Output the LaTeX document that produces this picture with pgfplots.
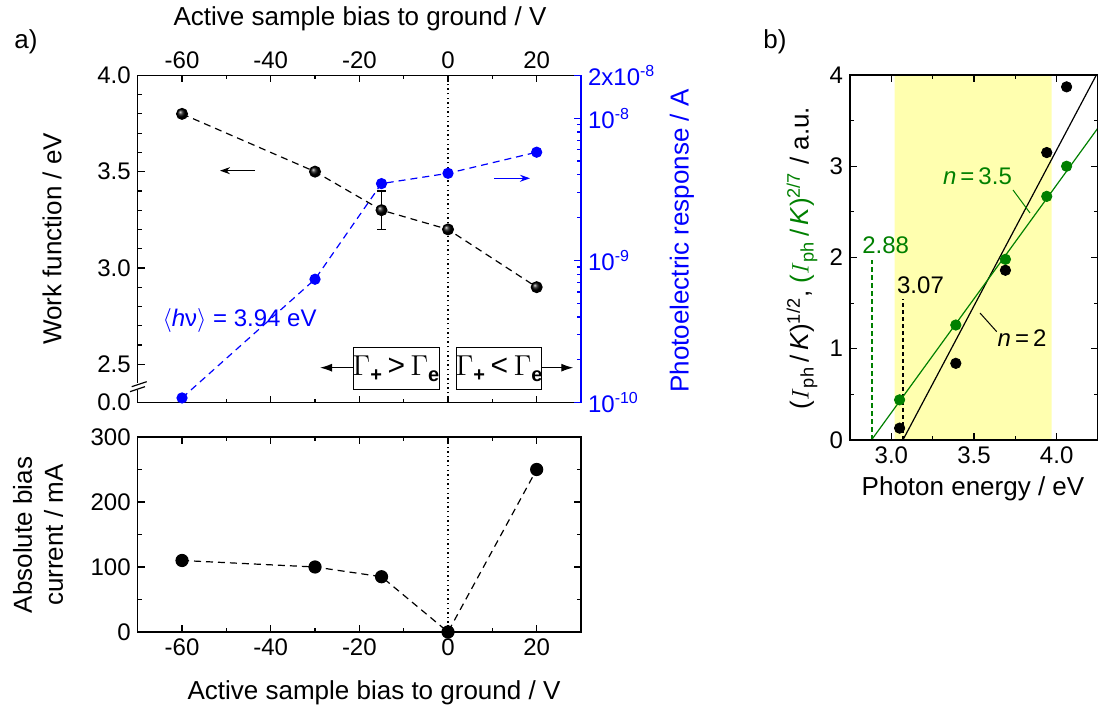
\documentclass[border=0pt]{standalone}
\usepackage{fontspec}
\setmainfont{Liberation Sans}
\usepackage{pgfplots}
\pgfplotsset{compat=1.18}
\usetikzlibrary{arrows.meta}
\definecolor{pblue}{RGB}{0,0,255}
\definecolor{pgreen}{RGB}{0,128,0}
\definecolor{band}{RGB}{255,255,175}
\newcommand{\tk}{\fontsize{12}{14}\selectfont}
\newcommand{\lb}{\fontsize{13}{15.5}\selectfont}
\newcommand{\Gam}{{\fontsize{14.5}{17}\selectfont$\Gamma$}}
\newcommand{\sub}[1]{\raisebox{-0.6ex}{\fontsize{10}{12}\selectfont\textbf{#1}}}
\pgfplotsset{
  base/.style={
    scale only axis, anchor=south west,
    axis line style={line width=0.7pt},
    tick style={line width=0.6pt, black},
    major tick length=3.5pt, minor tick length=2pt,
    tick align=inside,
    tick label style={font=\tk},
    /pgf/number format/assume math mode=true,
  },
  dsh/.style={dash pattern=on 3.5pt off 2.5pt, line width=0.6pt},
  dtt/.style={dash pattern=on 0.7pt off 1.6pt, line width=0.7pt},
}
\begin{document}
\begin{tikzpicture}
\useasboundingbox (0,0) rectangle (549pt,355pt);

% ---- a) top panel, work function (left axis)
\begin{axis}[base, at={(68.85pt,153.65pt)}, width=221.65pt, height=163.65pt,
  xmin=-70, xmax=30, ymin=2.3, ymax=4.0,
  xtick={-60,-40,-20,0,20}, minor xtick={-50,-30,-10,10},
  xtick pos=both, xticklabel pos=upper,
  ytick={2.5,3,3.5,4}, yticklabels={2.5,3.0,3.5,4.0},
  minor ytick={2.6,2.7,2.8,2.9,3.1,3.2,3.3,3.4,3.6,3.7,3.8,3.9},
  ytick pos=left,
  extra y ticks={2.3}, extra y tick labels={0.0},
  extra y tick style={major tick length=0pt},
  clip=false]
\addplot[black, dtt] coordinates {(0,2.3) (0,4.0)};
\addplot[black, dsh, mark=ball, mark size=2.7pt, mark options={solid, ball color=black},
  error bars/.cd, y dir=both, y explicit,
  error bar style={solid, line width=0.6pt},
  error mark options={solid, mark size=2.3pt, line width=0.6pt, rotate=90}]
  coordinates {(-60,3.8) +- (0,0) (-30,3.5) +- (0,0) (-15,3.3) +- (0,0.1) (0,3.2) +- (0,0) (20,2.9) +- (0,0)};
\end{axis}

% ---- a) top panel, photoelectric response (right log axis)
\begin{axis}[base, at={(68.85pt,153.65pt)}, width=221.65pt, height=163.65pt,
  xmin=-70, xmax=30, ymode=log, ymin=1e-10, ymax=2e-8,
  axis x line=none, axis y line*=right,
  y axis line style={pblue, line width=0.7pt},
  tick style={pblue, line width=0.6pt},
  ytick={1e-10,1e-9,1e-8,2e-8},
  yticklabels={10\textsuperscript{-10},10\textsuperscript{-9},10\textsuperscript{-8},2x10\textsuperscript{-8}},
  minor ytick={2e-10,3e-10,4e-10,5e-10,6e-10,7e-10,8e-10,9e-10,2e-9,3e-9,4e-9,5e-9,6e-9,7e-9,8e-9,9e-9},
  yticklabel style={text=pblue},
  clip=false]
\addplot[pblue, dsh, mark=*, mark size=2.5pt, mark options={solid}]
  coordinates {(-60,1.08e-10) (-30,7.38e-10) (-15,3.47e-9) (0,4.10e-9) (20,5.77e-9)};
\end{axis}

% ---- a) bottom panel, bias current
\begin{axis}[base, at={(68.85pt,39pt)}, width=221.65pt, height=97.5pt,
  xmin=-70, xmax=30, ymin=0, ymax=300,
  xtick={-60,-40,-20,0,20}, minor xtick={-50,-30,-10,10},
  ytick={0,100,200,300}, minor ytick={50,150,250},
  clip=false]
\addplot[black, dtt] coordinates {(0,0) (0,300)};
\addplot[black, dsh, mark=*, mark size=3pt, mark options={solid}]
  coordinates {(-60,110) (-30,100) (-15,85) (0,0) (20,250)};
\end{axis}

% ---- b) photon energy plot
\begin{axis}[base, at={(425pt,135pt)}, width=124pt, height=182.5pt,
  xmin=2.75, xmax=4.25, ymin=0, ymax=4,
  xtick={3,3.5,4}, xticklabels={3.0,3.5,4.0}, minor xtick={3.25,3.75},
  ytick={0,1,2,3,4}, minor ytick={0.5,1.5,2.5,3.5},
  axis on top]
\addplot[draw=none, fill=band] coordinates {(3.02,0) (3.02,4) (3.97,4) (3.97,0)} \closedcycle;
\addplot[color=pgreen, dash pattern=on 2.5pt off 1.5pt, line width=1pt] coordinates {(2.882,0) (2.882,1.97)};
\addplot[color=black, dash pattern=on 2pt off 1.5pt, line width=0.8pt] coordinates {(3.07,0) (3.07,1.55)};
\addplot[black, line width=0.6pt] coordinates {(3.07,0) (4.25,4.034)};
\addplot[pgreen, line width=0.6pt] coordinates {(2.88,0) (4.25,3.42)};
\addplot[only marks, black, mark=*, mark size=2.6pt]
  coordinates {(3.05,0.13) (3.39,0.84) (3.69,1.86) (3.94,3.15) (4.06,3.87)};
\addplot[only marks, pgreen, mark=*, mark size=2.6pt]
  coordinates {(3.05,0.44) (3.39,1.26) (3.69,1.98) (3.94,2.67) (4.06,3.00)};
\end{axis}

% ---- labels and annotations, in reference pixel units
\begin{scope}[x=0.5pt, y=-0.5pt, shift={(0pt,355pt)}]
\node[font=\lb] at (26,42) {a)};
\node[font=\lb] at (775,42) {b)};
\node[font=\lb, anchor=base] at (360,26) {Active sample bias to ground / V};
\node[font=\lb, anchor=base] at (374,700) {Active sample bias to ground / V};
\node[font=\lb, rotate=90] at (52,239) {Work function / eV};
\node[font=\lb, rotate=90, text=pblue] at (682,241) {Photoelectric response / A};
\node[font=\lb, rotate=90, align=center] at (38,535) {Absolute bias\\current / mA};
\node[font=\lb, anchor=base] at (973,496) {Photon energy / eV};
\node[font=\lb, rotate=90] at (802,258)
  {($I$\textsubscript{ph}\,/\,\textit{K})\textsuperscript{1/2}, \textcolor{pgreen}{($I$\textsubscript{ph}\,/\,\textit{K})\textsuperscript{2/7}} / a.u.};
% axis break
\fill[white] (133,383) rectangle (142,390);
\draw[line width=0.6pt] (130,391.7) -- (145,386.7);
\draw[line width=0.6pt] (131.7,386.7) -- (146.7,381.7);
% arrows
\draw[-{Stealth[length=5pt,width=3.5pt]}, line width=0.6pt] (255,170.7) -- (220,170.7);
\draw[pblue, -{Stealth[length=5pt,width=3.5pt]}, line width=0.6pt] (494,178.3) -- (530,178.3);
\node[font=\tk, text=pblue, anchor=base east, inner sep=0pt] at (317,327)
  {$\langle$\textit{h}ν$\rangle$ = 3.94 eV};
% Gamma boxes
\draw[line width=0.5pt, fill=white] (353,347.7) rectangle (439,389.3);
\draw[line width=0.5pt, fill=white] (456.7,347.7) rectangle (541.7,389.3);
\node[inner sep=0pt] at (396,369)
  {\Gam\sub{+}\;{\fontsize{15}{17}\selectfont >}\;\Gam\sub{e}};
\node[inner sep=0pt] at (499.2,369)
  {\Gam\sub{+}\;{\fontsize{15}{17}\selectfont <}\;\Gam\sub{e}};
\draw[-{Latex[length=6pt,width=4pt]}, line width=0.6pt] (353,367.7) -- (320,367.7);
\draw[-{Latex[length=6pt,width=4pt]}, line width=0.6pt] (541.7,367.7) -- (573.3,367.7);
% panel b labels
\node[font=\tk, text=pgreen] at (885.7,245) {2.88};
\node[font=\tk] at (920.5,285) {3.07};
\node[font=\tk, text=pgreen] at (977.5,176.7) {\textit{n}\,=\,3.5};
\draw[pgreen, line width=0.5pt] (1013,190) -- (1030,213);
\node[font=\tk] at (1022,338) {\textit{n}\,=\,2};
\draw[line width=0.5pt] (980,313) -- (996.7,331.7);
\end{scope}
\end{tikzpicture}
\end{document}
